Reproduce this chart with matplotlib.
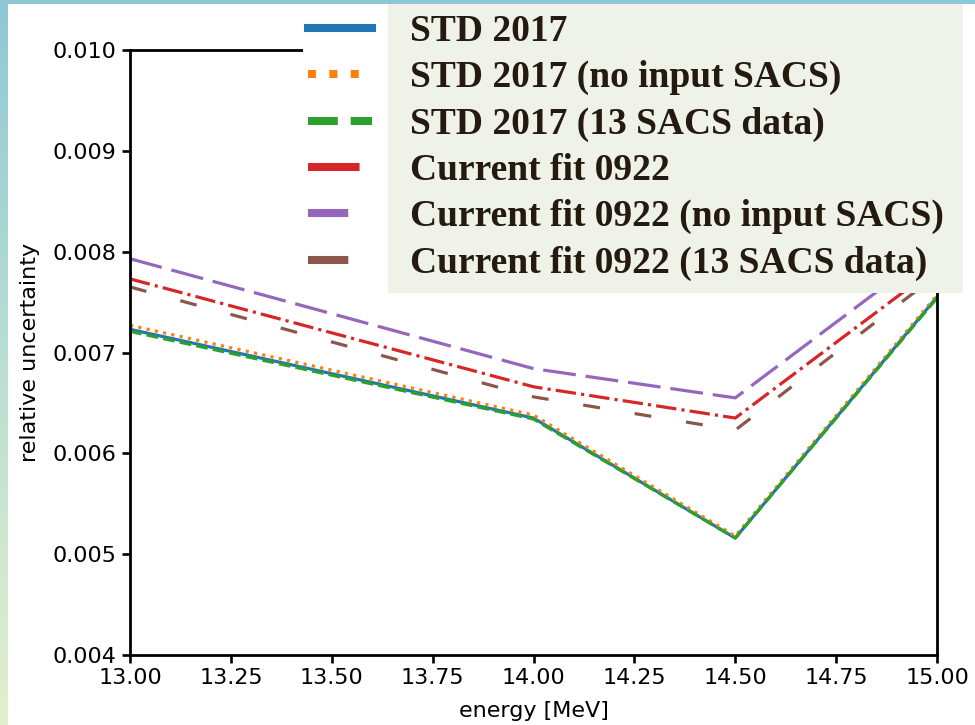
import matplotlib
matplotlib.use("Agg")
import numpy as np
import matplotlib.pyplot as plt
import matplotlib.patches as patches
from matplotlib.lines import Line2D
from matplotlib.colors import LinearSegmentedColormap

# energies and relative uncertainties per evaluation
energy = [13.0, 14.0, 14.5, 15.0]
std2017 = [0.00723, 0.00635, 0.00516, 0.00755]
std2017_noinput = [0.00727, 0.00638, 0.00518, 0.00757]
std2017_13sacs = [0.00721, 0.00634, 0.00516, 0.00754]
fit0922 = [0.00773, 0.00666, 0.00635, 0.00785]
fit0922_noinput = [0.00793, 0.00684, 0.00655, 0.00805]
fit0922_13sacs = [0.00765, 0.00656, 0.00623, 0.00777]

labels = ["STD 2017", "STD 2017 (no input SACS)", "STD 2017 (13 SACS data)",
          "Current fit 0922", "Current fit 0922 (no input SACS)",
          "Current fit 0922 (13 SACS data)"]
series = [std2017, std2017_noinput, std2017_13sacs,
          fit0922, fit0922_noinput, fit0922_13sacs]
colors = ["#1f77b4", "#ff7f0e", "#2ca02c", "#d62728", "#9467bd", "#8c564b"]
# (plot dashes, legend dashes) in linewidth units; None = solid
styles = [(None, None), ((1, 1.65), (1, 1.65)), ((3.7, 1.6), (3.7, 1.6)),
          ((6.4, 1.6, 1, 1.6), (6.4, 1.6, 1, 1.6)), ((10.3, 3.1), (5, 4)),
          ((5.3, 11), (5, 11))]

W, H = 975, 725
fig = plt.figure(figsize=(W / 100, H / 100), dpi=100)
fig.patch.set_facecolor("white")

# slide decoration: gradient strip on the left and a bar on top
cmap = LinearSegmentedColormap.from_list("strip", ["#8ec8d6", "#b9dfd2", "#e3f0cc"])
strip = fig.add_axes([0, 0, 8 / W, 1])
strip.imshow(np.linspace(0, 1, 256).reshape(-1, 1), aspect="auto", cmap=cmap)
strip.axis("off")
topbar = fig.add_axes([0, 1 - 4 / H, 1, 4 / H])
topbar.set_facecolor("#8ec8d6")
topbar.set_xticks([])
topbar.set_yticks([])
for s in topbar.spines.values():
    s.set_visible(False)

ax = fig.add_axes([130 / W, 70 / H, 807 / W, 605 / H])
lw = 2.3
for vals, c, (dash, _) in zip(series, colors, styles):
    line, = ax.plot(energy, vals, color=c, lw=lw)
    if dash is not None:
        line.set_dashes(dash)

ax.set_xlim(13.0, 15.0)
ax.set_ylim(0.004, 0.010)
ax.set_xticks(np.arange(13.0, 15.01, 0.25))
ax.set_yticks(np.arange(0.004, 0.0101, 0.001))
ax.xaxis.set_major_formatter(plt.FormatStrFormatter("%.2f"))
ax.yaxis.set_major_formatter(plt.FormatStrFormatter("%.3f"))
ax.tick_params(labelsize=16, length=6, width=1.9)
for s in ax.spines.values():
    s.set_linewidth(2.0)
ax.set_xlabel("energy [MeV]", fontsize=16, labelpad=9)
ax.set_ylabel("relative uncertainty", fontsize=16, labelpad=9)

# legend: white backing behind handles, pale box behind the labels
fig.add_artist(patches.Rectangle((303 / W, 1 - 293 / H), 85 / W, 289 / H,
                                 transform=fig.transFigure, facecolor="white",
                                 edgecolor="none", zorder=3))
fig.add_artist(patches.Rectangle((388 / W, 1 - 293 / H), 575 / W, 289 / H,
                                 transform=fig.transFigure, facecolor="#eef2e9",
                                 edgecolor="none", zorder=3))

handles = []
for c, (_, ldash) in zip(colors, styles):
    h = Line2D([0], [0], color=c, lw=5.8)
    if ldash is not None:
        h.set_dashes(ldash)
    handles.append(h)

leg = fig.legend(handles, labels, loc="upper left",
                 bbox_to_anchor=(308 / W, 1 - 14 / H),
                 bbox_transform=fig.transFigure, frameon=False,
                 prop={"family": "Liberation Serif", "weight": "bold", "size": 27},
                 labelcolor="#241a10", handlelength=1.71, handletextpad=1.0,
                 labelspacing=0.3, borderpad=0, borderaxespad=0)
leg.set_zorder(5)

fig.savefig("out.png", dpi=100)
